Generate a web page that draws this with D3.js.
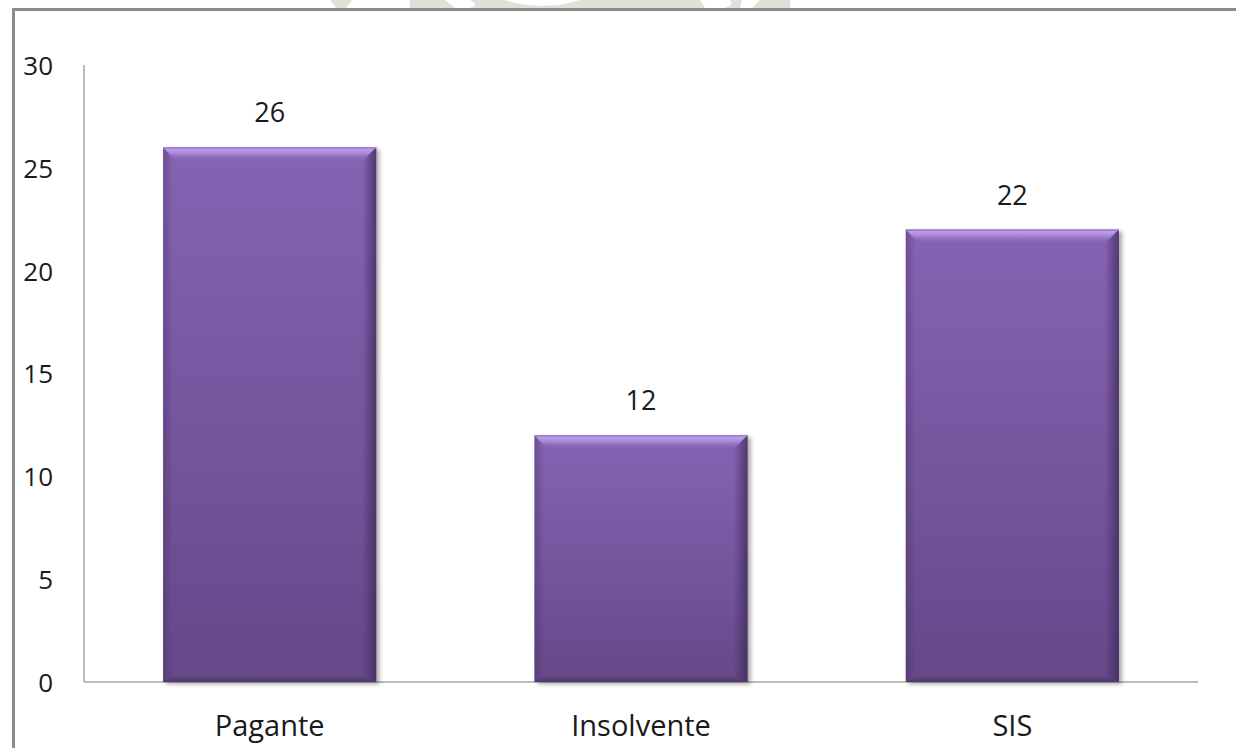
<!DOCTYPE html>
<html>
<head>
<meta charset="utf-8">
<script src="https://cdn.jsdelivr.net/npm/d3@7/dist/d3.min.js"></script>
<style>
  html, body { margin: 0; padding: 0; background: #fff; overflow: hidden; }
  svg { display: block; }
  text { font-family: "Open Sans", Lato, sans-serif; fill: #1a1a1a; }
</style>
</head>
<body>
<script>
// Chart data
const categories = ["Pagante", "Insolvente", "SIS"];
const values = [26, 12, 22];
const yTicks = [0, 5, 10, 15, 20, 25, 30];

const W = 1236, H = 748;
const plot = { left: 84, right: 1198, top: 65, bottom: 682 };

const svg = d3.select("body").append("svg")
  .attr("width", W).attr("height", H);

const defs = svg.append("defs");

// Bar body: lighter at the top, darker toward the base
const body = defs.append("linearGradient").attr("id", "barBody")
  .attr("x1", 0).attr("y1", 0).attr("x2", 0).attr("y2", 1);
body.append("stop").attr("offset", "0%").attr("stop-color", "#8663b3");
body.append("stop").attr("offset", "100%").attr("stop-color", "#664889");

const topBev = defs.append("linearGradient").attr("id", "bevTop")
  .attr("x1", 0).attr("y1", 0).attr("x2", 0).attr("y2", 1);
topBev.append("stop").attr("offset", "0%").attr("stop-color", "#c9a9f2");
topBev.append("stop").attr("offset", "45%").attr("stop-color", "#a886d8");
topBev.append("stop").attr("offset", "100%").attr("stop-color", "#8663b3").attr("stop-opacity", 0);

const rightBev = defs.append("linearGradient").attr("id", "bevRight")
  .attr("x1", 0).attr("y1", 0).attr("x2", 1).attr("y2", 0);
rightBev.append("stop").attr("offset", "0%").attr("stop-color", "#3e2a5a").attr("stop-opacity", 0);
rightBev.append("stop").attr("offset", "100%").attr("stop-color", "#3e2a5a").attr("stop-opacity", 0.75);

const leftBev = defs.append("linearGradient").attr("id", "bevLeft")
  .attr("x1", 0).attr("y1", 0).attr("x2", 1).attr("y2", 0);
leftBev.append("stop").attr("offset", "0%").attr("stop-color", "#3e2a5a").attr("stop-opacity", 0.35);
leftBev.append("stop").attr("offset", "100%").attr("stop-color", "#3e2a5a").attr("stop-opacity", 0);

const bottomBev = defs.append("linearGradient").attr("id", "bevBottom")
  .attr("x1", 0).attr("y1", 0).attr("x2", 0).attr("y2", 1);
bottomBev.append("stop").attr("offset", "0%").attr("stop-color", "#3e2a5a").attr("stop-opacity", 0);
bottomBev.append("stop").attr("offset", "100%").attr("stop-color", "#3e2a5a").attr("stop-opacity", 0.55);

const shadow = defs.append("filter").attr("id", "barShadow")
  .attr("x", "-10%").attr("y", "-10%").attr("width", "130%").attr("height", "130%");
shadow.append("feDropShadow").attr("dx", 3).attr("dy", 2)
  .attr("stdDeviation", 2.2).attr("flood-color", "#000").attr("flood-opacity", 0.35);

// Faint emblem peeking above the frame
const mark = svg.append("g").attr("fill", "#dde2d7");
mark.append("path").attr("d", "M330,0 L352,0 L346,8 L336,8 Z");
mark.append("path").attr("d", "M410,0 L790,0 L790,8 L410,8 Z");
mark.append("path").attr("d", "M445,0 L470,0 Q480,5 470,8 L455,8 Z").attr("fill", "#fff");
mark.append("path").attr("d", "M505,0 Q525,8 560,5 Q575,2 580,0 Z").attr("fill", "#fff");
mark.append("path").attr("d", "M700,0 L730,0 Q735,4 725,8 L705,8 Z").attr("fill", "#fff");
mark.append("path").attr("d", "M742,0 L760,0 L752,8 L740,8 Z").attr("fill", "#fff");

// Outer frame (continues past the right and bottom edges)
svg.append("path")
  .attr("d", "M1236,9.5 L13.5,9.5 L13.5,748")
  .attr("fill", "none").attr("stroke", "#8c8c8c").attr("stroke-width", 3);

// Scales
const x = d3.scaleBand().domain(categories)
  .range([plot.left, plot.right]).paddingInner(0.426).paddingOuter(0.213);
const y = d3.scaleLinear().domain([0, 30]).range([plot.bottom, plot.top]);

// Axes lines
svg.append("line")
  .attr("x1", plot.left).attr("x2", plot.left)
  .attr("y1", y(30)).attr("y2", y(0))
  .attr("stroke", "#a6a6a6").attr("stroke-width", 1.5);
svg.append("line")
  .attr("x1", plot.left).attr("x2", plot.right)
  .attr("y1", y(0)).attr("y2", y(0))
  .attr("stroke", "#a6a6a6").attr("stroke-width", 1.5);

// Y tick labels
const yAxis = d3.axisLeft(y).tickValues(yTicks).tickSize(0).tickPadding(0);
const yg = svg.append("g").attr("transform", "translate(53,0)").call(yAxis);
yg.select(".domain").remove();
yg.selectAll("text")
  .attr("font-size", 26).attr("fill", "#1a1a1a")
  .style("font-family", "'Open Sans', Lato, sans-serif")
  .attr("dy", "0.36em");

// X category labels
const xAxis = d3.axisBottom(x).tickSize(0).tickPadding(0);
const xg = svg.append("g").attr("transform", "translate(0,736)").call(xAxis);
xg.select(".domain").remove();
xg.selectAll("text")
  .attr("font-size", 29).attr("fill", "#1a1a1a")
  .style("font-family", "'Open Sans', Lato, sans-serif")
  .attr("dy", 0).attr("y", 0);

// Bars with bevelled edges
const bev = 14;
const bars = svg.append("g").selectAll("g.bar")
  .data(categories.map((c, i) => ({ c, v: values[i] })))
  .join("g").attr("class", "bar");

bars.each(function (d) {
  const g = d3.select(this);
  const x0 = x(d.c), w = x.bandwidth();
  const y0 = y(d.v), y1 = y(0);
  const h = y1 - y0;
  g.append("rect").attr("x", x0).attr("y", y0).attr("width", w).attr("height", h)
    .attr("fill", "url(#barBody)").attr("filter", "url(#barShadow)");
  g.append("path")
    .attr("d", `M${x0},${y0} L${x0 + w},${y0} L${x0 + w - bev},${y0 + bev} L${x0 + bev},${y0 + bev} Z`)
    .attr("fill", "url(#bevTop)");
  g.append("path")
    .attr("d", `M${x0 + w},${y0} L${x0 + w},${y1} L${x0 + w - bev},${y1 - bev * 0.5} L${x0 + w - bev},${y0 + bev} Z`)
    .attr("fill", "url(#bevRight)");
  g.append("path")
    .attr("d", `M${x0},${y0} L${x0 + bev * 0.7},${y0 + bev} L${x0 + bev * 0.7},${y1 - bev * 0.5} L${x0},${y1} Z`)
    .attr("fill", "url(#bevLeft)");
  g.append("path")
    .attr("d", `M${x0},${y1} L${x0 + w},${y1} L${x0 + w - bev},${y1 - bev * 0.5} L${x0 + bev * 0.7},${y1 - bev * 0.5} Z`)
    .attr("fill", "url(#bevBottom)");
  g.append("rect").attr("x", x0).attr("y", y0).attr("width", w).attr("height", 1.5)
    .attr("fill", "#9b7bc6");
});

// Value labels above bars
svg.append("g").selectAll("text")
  .data(categories.map((c, i) => ({ c, v: values[i] })))
  .join("text")
  .attr("x", d => x(d.c) + x.bandwidth() / 2)
  .attr("y", d => y(d.v) - 25)
  .attr("text-anchor", "middle")
  .attr("font-size", 27)
  .text(d => d.v);
</script>
</body>
</html>
